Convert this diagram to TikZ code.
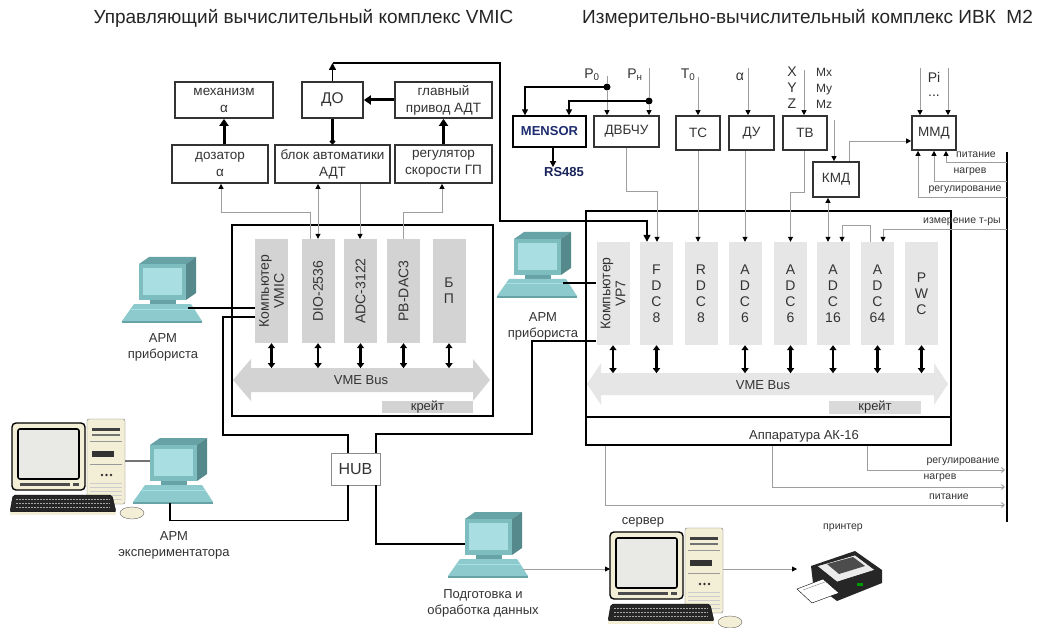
\documentclass[tikz,border=0pt]{standalone}
\usepackage{fontspec}
\setmainfont{Liberation Sans}
\usetikzlibrary{arrows.meta,calc}

\definecolor{wire}{HTML}{9E9E9E}
\definecolor{modA}{HTML}{D3D3D3}
\definecolor{modB}{HTML}{E6E6E6}
\definecolor{txt}{HTML}{333333}
\definecolor{beige}{HTML}{F3EFD6}
\definecolor{scrn}{HTML}{E9E9E6}
\definecolor{tealA}{HTML}{7DBDC0}
\definecolor{tealB}{HTML}{67A3A6}
\definecolor{tealC}{HTML}{55898C}
\definecolor{tealS}{HTML}{A9DEE3}
\definecolor{tealD}{HTML}{8CCACD}
\definecolor{mensorc}{HTML}{1E2C70}

\newcommand{\fTitle}{\fontsize{19}{22}\selectfont}
\newcommand{\fBox}{\fontsize{13.5}{17}\selectfont}
\newcommand{\fBig}{\fontsize{15.5}{18}\selectfont}
\newcommand{\fMod}{\fontsize{14}{15}\selectfont}
\newcommand{\fStk}{\fontsize{14}{16}\selectfont}
\newcommand{\fLab}{\fontsize{13}{16}\selectfont}
\newcommand{\fSm}{\fontsize{10.5}{12}\selectfont}
\newcommand{\fSens}{\fontsize{14}{16}\selectfont}

\tikzset{
  % workstation terminal icon
  arm/.pic={
    \fill[tealB] (17,7) -- (27,0) -- (74,0) -- (64,7) -- cycle;
    \fill[tealC] (64,7) -- (74,0) -- (74,36) -- (64,43) -- cycle;
    \fill[tealA] (17,7) rectangle (64,43);
    \fill[tealS] (21,11) rectangle (60,38);
    \fill[tealB] (28,43) rectangle (54,47);
    \fill[tealD] (12,47) -- (69,47) -- (80,64) -- (0,64) -- cycle;
    \draw[tealS, line width=1pt] (9,52) -- (72,52);
    \fill[tealB] (0,64) rectangle (80,66);
    \coordinate (-r) at (66,51);
    \coordinate (-l) at (17,32);
    \coordinate (-l2) at (17,23);
    \coordinate (-b) at (37,65);
    \coordinate (-o) at (75,57);
  },
  % desktop computer icon
  pc/.pic={
    \draw[black!55, fill=beige, rounded corners=2] (77,0) rectangle (115,85);
    \fill[black!75] (82,9) rectangle (110,12);
    \fill[black!55] (82,15) rectangle (110,17);
    \draw[black!40] (80,22) -- (112,22);
    \fill[black!80] (82,32) rectangle (104,38);
    \draw[black!40] (80,45) -- (112,45);
    \fill[black!80] (92,56) circle (1.4) (96.5,56) circle (1.4) (101,56) circle (1.4);
    \foreach \yy in {64,68,...,80} \draw[black!20] (80,\yy) -- (112,\yy);
    \draw[line width=1.4pt, fill=beige, rounded corners=4] (2,4) rectangle (75,71);
    \draw[line width=1.6pt, fill=scrn, rounded corners=2] (8,10) rectangle (69,60);
    \fill[black!70] (10,64) rectangle (60,67);
    \fill[black!70] (63,64) rectangle (69,67);
    \draw[black, fill=black!85, rounded corners=2] (3,76) -- (102,76) -- (106,93) -- (0,93) -- cycle;
    \foreach \yy in {80,84,88} \draw[black!35, dash pattern=on 2pt off 1pt] (6,\yy) -- (100,\yy);
    \fill[beige] (0,93) -- (106,93) -- (106,96) -- (0,96) -- cycle;
    \draw[black!60, fill=beige] (122,94) ellipse (12 and 6);
    \coordinate (-l) at (2,41);
    \coordinate (-r) at (115,41);
    \coordinate (-t) at (115,42);
  },
  % printer icon
  prn/.pic={
    \fill[black!85] (14,18) -- (58,3) -- (85,22) -- (85,35) -- (40,53) -- (16,35) -- cycle;
    \draw[black, fill=black!8] (20,18) -- (58,7) -- (78,22) -- (40,34) -- cycle;
    \fill[black!70] (30,16) -- (56,9) -- (68,18) -- (42,26) -- cycle;
    \draw[black, fill=white] (0,41) -- (26,31) -- (42,45) -- (15,55) -- cycle;
    \draw[black!50] (6,42) -- (28,34);
    \fill[green!60!black] (60,35) rectangle (66,38);
    \coordinate (-l) at (0,21);
  }
}

\begin{document}
\begin{tikzpicture}[x=1pt, y=-1pt,
  box/.style={draw=black!80, line width=1.7pt, fill=white, inner sep=0pt, align=center, text=txt, font=\fBox},
  modL/.style={fill=modA, inner sep=0pt, minimum width=33pt, minimum height=104pt},
  modR/.style={fill=modB, inner sep=0pt, minimum width=33pt, minimum height=103pt},
  rotlab/.style={rotate=90, align=center, font=\fMod, text=txt},
  stk/.style={align=center, font=\fStk, text=txt},
  lab/.style={align=center, font=\fLab, text=txt},
  sm/.style={font=\fSm, text=txt, inner sep=0pt},
  sens/.style={font=\fSens, text=txt, inner sep=0pt},
  thk/.style={line width=3pt, -{Triangle[length=7pt,width=9pt]}},
  busarr/.style={line width=2.4pt, {Triangle[length=5pt,width=7pt]}-{Triangle[length=5pt,width=7pt]}},
  bl/.style={line width=1.4pt, black},
  bar/.style={line width=1.3pt, black, -{Triangle[length=6pt,width=6pt]}},
  gl/.style={line width=0.9pt, wire},
  gar/.style={gl, -{Triangle[length=5pt,width=5pt,color=black]}},
  gopen/.style={gl, -{Straight Barb[length=3pt,width=5pt]}},
  dot/.style={circle, fill=black, inner sep=0pt, minimum size=7pt}
]
\useasboundingbox (0,0) rectangle (1041,628);
\fill[white] (0,0) rectangle (1041,628);

% ---------- titles ----------
\node[font=\fTitle, text=black!85] (title1) at (303.5,18) {Управляющий вычислительный комплекс VMIC};
\node[font=\fTitle, text=black!85] (title2) at (807.5,18) {Измерительно-вычислительный комплекс ИВК~~М2};

% ---------- control units ----------
\node[box, minimum width=98pt, minimum height=36pt] (mech) at (224,100) {механизм\\α};
\node[box, minimum width=61pt, minimum height=36pt, font=\fBig] (DO) at (332.5,100) {ДО};
\node[box, minimum width=97pt, minimum height=36pt] (glav) at (443.5,100) {главный\\привод АДТ};
\node[box, minimum width=96pt, minimum height=38pt] (doz) at (220,164) {дозатор\\α};
\node[box, minimum width=115pt, minimum height=38pt] (blok) at (332.5,164) {блок автоматики\\АДТ};
\node[box, minimum width=97pt, minimum height=38pt] (reg) at (443.5,164) {регулятор\\скорости ГП};

\draw[thk] (mech.south |- doz.north) -- (mech.south);
\draw[line width=3pt, {Circle[length=5pt]}-] (blok) -- (DO);
\draw[thk] (reg) -- (glav);
\draw[thk] (glav) -- (DO);

% ---------- VMIC crate ----------
\node[draw, line width=1.5pt, minimum width=261pt, minimum height=191pt, inner sep=0pt] (lcrate) at (362.5,320.5) {};
\node[modL] (vmic) at (271.5,291) {};
\node[modL] (dio) at (318,291) {};
\node[modL] (adcA) at (360.5,291) {};
\node[modL] (pbdac) at (403.5,291) {};
\node[modL] (bp) at (449,291) {};
\node[rotlab] (vmicT) at (vmic) {Компьютер\\VMIC};
\node[rotlab] (dioT) at (dio) {DIO-2536};
\node[rotlab] (adcAT) at (adcA) {ADC-3122};
\node[rotlab] (pbdacT) at (pbdac) {PB-DAC3};
\node[stk] (bpT) at (bp) {Б\\П};

\fill[modA] (233,380) -- (251,359) -- (251,368) -- (473,368) -- (473,359) -- (490,380)
  -- (473,401) -- (473,392) -- (251,392) -- (251,401) -- cycle;
\node[lab] (lbus) at (361,380) {VME Bus};
\node[fill=modA, minimum width=91pt, minimum height=12pt, inner sep=0pt, lab] (lkr) at (427.5,407) {крейт};
\foreach \m in {vmic,dio,adcA,pbdac,bp} \draw[busarr] (\m.south) -- ++(0,25);

% links between the control units and the crate
\draw[gar] ([xshift=-8pt]dio.north) |- (221,212) -- (doz.south -| 221,0);
\draw[gl, {Triangle[length=5pt,width=5pt,color=black]}-{Triangle[length=5pt,width=5pt,color=black]}]
  (blok.south -| dio.north) -- (dio.north);
\draw[gar] (blok.south -| 360,0) -- (360,239);
\draw[gar] (pbdac.north) |- (442,212) -- (reg.south -| 442,0);

% DO output to FDC8
\coordinate (doTop) at (332.5,63);
\draw[bl, -{Triangle[length=7pt,width=7pt]}] (DO.north) -- (doTop);

% ---------- IVK crate ----------
\node[draw, line width=1.5pt, minimum width=365pt, minimum height=206pt, inner sep=0pt] (rcrate) at (768.5,314) {};
\node[draw, line width=1.5pt, minimum width=365pt, minimum height=28pt, inner sep=0pt] (ak) at (768.5,431) {};
\node[lab] (akT) at (804,436) {Аппаратура АК-16};

\node[modR] (vp7) at (613,293.5) {};
\node[modR] (fdc8) at (656.5,293.5) {};
\node[modR] (rdc8) at (701,293.5) {};
\node[modR] (adc6a) at (745,293.5) {};
\node[modR] (adc6b) at (790.5,293.5) {};
\node[modR] (adc16) at (833,293.5) {};
\node[modR] (adc64) at (877.5,293.5) {};
\node[modR] (pwc) at (921.5,293.5) {};
\node[rotlab] (vp7T) at (vp7) {Компьютер\\VP7};
\node[stk] (fdc8T) at (fdc8) {F\\D\\C\\8};
\node[stk] (rdc8T) at (rdc8) {R\\D\\C\\8};
\node[stk] (adc6aT) at (adc6a) {A\\D\\C\\6};
\node[stk] (adc6bT) at (adc6b) {A\\D\\C\\6};
\node[stk] (adc16T) at (adc16) {A\\D\\C\\16};
\node[stk] (adc64T) at (adc64) {A\\D\\C\\64};
\node[stk] (pwcT) at (pwc) {P\\W\\C};

\fill[modB] (587,384) -- (601,363) -- (601,373) -- (934,373) -- (934,363) -- (948,384)
  -- (934,405) -- (934,395) -- (601,395) -- (601,405) -- cycle;
\node[lab] (rbus) at (763,385) {VME Bus};
\node[fill=modB!95!black, minimum width=92pt, minimum height=13pt, inner sep=0pt, lab] (rkr) at (875,407.5) {крейт};
\foreach \m in {vp7,fdc8,adc6a,adc6b,adc16,adc64,pwc} \draw[busarr] (\m.south) -- ++(0,28);

\draw[bl, line width=1.5pt, -{Triangle[length=7pt,width=7pt]}] (doTop) -| (500,221) -| ([xshift=-9.5pt]fdc8.north);

% ---------- sensors ----------
\node[draw=black, line width=1.3pt, minimum width=73pt, minimum height=31pt, inner sep=0pt,
  font=\bfseries\fLab, text=mensorc] (mensor) at (549.5,131.5) {MENSOR};
\node[font=\bfseries\fLab, text=mensorc!80!black, inner sep=0pt] (rs) at (564,172) {RS485};
\node[box, minimum width=65pt, minimum height=31pt] (dvb) at (626.5,131.5) {ДВБЧУ};
\node[box, minimum width=44pt, minimum height=34pt] (ts) at (698,133) {ТС};
\node[box, minimum width=45pt, minimum height=34pt] (du) at (751.5,133) {ДУ};
\node[box, minimum width=44pt, minimum height=34pt] (tv) at (805,133) {ТВ};
\node[box, minimum width=46pt, minimum height=35pt] (kmd) at (836,179.5) {КМД};
\node[box, minimum width=44pt, minimum height=34pt] (mmd) at (934,133) {ММД};

\node[sens] (lP0) at (592,75) {P\textsubscript{0}};
\node[sens] (lPn) at (635,75) {P\textsubscript{н}};
\node[sens] (lT0) at (688,75) {T\textsubscript{0}};
\node[sens] (lA) at (740,77) {α};
\node[sens, align=center] (lXYZ) at (792,88) {X\\Y\\Z};
\node[font=\fontsize{12}{16}\selectfont, text=txt, inner sep=0pt, align=left] (lM) at (824,88) {Mx\\My\\Mz};
\node[sens] (lPi) at (934,77) {Pi};
\node[sens] (lDots) at (934,96) {...};

\node[dot] (d1) at (607,87) {};
\node[dot] (d2) at (649,101) {};
\coordinate (tP0) at (607,76);
\coordinate (tPn) at (649,68);
\draw[gl] (tP0) -- (d1);
\draw[gl] (tPn) -- (d2);
\draw[gar] (d1) -- (d1 |- dvb.north);
\draw[gar] (d2) -- (d2 |- dvb.north);
\draw[bar] (d1.center) -| ([xshift=-24.5pt]mensor.north);
\draw[bar] (d2.center) -| ([xshift=19.5pt]mensor.north);
\draw[bar] ([xshift=3.5pt]mensor.south) -- ([xshift=3.5pt]mensor.south |- rs.north);

\coordinate (tT) at (698,77);
\coordinate (tA) at (748,68);
\coordinate (tX) at (804,70);
\coordinate (tM) at (834,120);
\coordinate (tPa) at (920,68);
\coordinate (tPb) at (948,68);
\draw[gar] (tT) -- (ts);
\draw[gar] (tA) -- (tA |- du.north);
\draw[gar] (tX) -- (tX |- tv.north);
\draw[gar] (tM) -- (tM |- kmd.north);
\draw[gar] (tPa) -- (tPa |- mmd.north);
\draw[gar] (tPb) -- (tPb |- mmd.north);

% sensor outputs into the crate
\draw[gar] (dvb.south) -- ++(0,44) -| ([xshift=0.5pt]fdc8.north);
\draw[gar] (ts.south) -- (ts.south |- rdc8.north);
\draw[gar] (adc6a.north |- du.south) -- (adc6a.north);
\draw[gar] ([xshift=-1pt]tv.south) -- ++(0,42) -| (adc6b.north);
\draw[gl, {Triangle[length=5pt,width=5pt,color=black]}-{Triangle[length=5pt,width=5pt,color=black]}]
  ([xshift=-8pt]kmd.south) -- ([xshift=-8pt]kmd.south |- adc16.north);
\draw[gar] ([xshift=-7.5pt]adc64.north) -- ++(0,-16) -| ([xshift=9pt]adc16.north);
\draw[gar] ([xshift=13pt]kmd.north) |- ([yshift=-8pt]mmd.west);

% supply line on the right
\coordinate (vTop) at (1007,152);
\coordinate (vBot) at (1007,522);
\draw[line width=1.8pt] (vTop) -- (vBot);
\coordinate (vIzm) at (1007,229);
\coordinate (vPit) at (1007,162);
\coordinate (vNag) at (1007,181);
\coordinate (vReg) at (1007,197);
\draw[gar] (vIzm) -| ([xshift=5.5pt]adc64.north);
\draw[gar] (vPit) -| ([xshift=12pt]mmd.south);
\draw[gar] (vNag) -| (mmd.south);
\draw[gar] (vReg) -| ([xshift=-16pt]mmd.south);
\node[sm] (lIzm) at (962,222) {измерение т-ры};
\node[sm] (lPit) at (976,155) {питание};
\node[sm] (lNag) at (970,172) {нагрев};
\node[sm] (lReg) at (965,190) {регулирование};

\coordinate (bReg) at (1005,470);
\coordinate (bNag) at (1005,487);
\coordinate (bPit) at (1005,505);
\draw[gopen] ([xshift=98.5pt]ak.south) |- (bReg);
\draw[gopen] ([xshift=3.5pt]ak.south) |- (bNag);
\draw[gopen] ([xshift=-163.5pt]ak.south) |- (bPit);
\node[sm] (lReg2) at (963,462) {регулирование};
\node[sm] (lNag2) at (940,478) {нагрев};
\node[sm] (lPit2) at (949,497) {питание};

% ---------- workstations and network ----------
\pic (armL) at (122,257) {arm};
\node[lab] (armLT) at (163,347) {АРМ\\прибориста};
\pic (armR) at (497,232) {arm};
\node[lab] (armRT) at (543,326) {АРМ\\прибориста};
\pic (armE) at (133,438) {arm};
\node[lab] (armET) at (174,545) {АРМ\\экспериментатора};
\pic (armP) at (448,512) {arm};
\node[lab] (armPT) at (483,603) {Подготовка и\\обработка данных};
\pic (pcE) at (10,419) {pc};
\pic (srv) at (608,528) {pc};
\node[lab] (srvT) at (643,522) {сервер};
\pic (prn) at (797,548) {prn};
\node[sm] (prnT) at (843,528) {принтер};

\node[draw=black!45, line width=0.8pt, minimum width=49pt, minimum height=32pt, inner sep=0pt,
  font=\fontsize{16}{18}\selectfont, text=txt, fill=white] (hub) at (355.5,469) {HUB};

\draw[bl] (armL-r) -- (armL-r -| vmic.west);
\draw[bl] ([yshift=-26pt]vmic.west) -| (223,435) -| ([xshift=-7.5pt]hub.north);
\draw[bl] ([xshift=20.5pt]hub.north) |- (532,434) |- ([yshift=-47.5pt]vp7.west);
\draw[bl] (armR-r) -- (armR-r -| vp7.west);
\draw[bl] ([xshift=-7.5pt]hub.south) -- ++(0,35) -| (armE-b);
\draw[bl] ([xshift=20.5pt]hub.south) |- (armP-l);
\draw[line width=2.2pt, black!55] (pcE-t) -- (armE-l2);
\draw[gar] (armP-o) -- (srv-l);
\draw[gar] (srv-r) -- (prn-l);

\end{tikzpicture}
\end{document}
